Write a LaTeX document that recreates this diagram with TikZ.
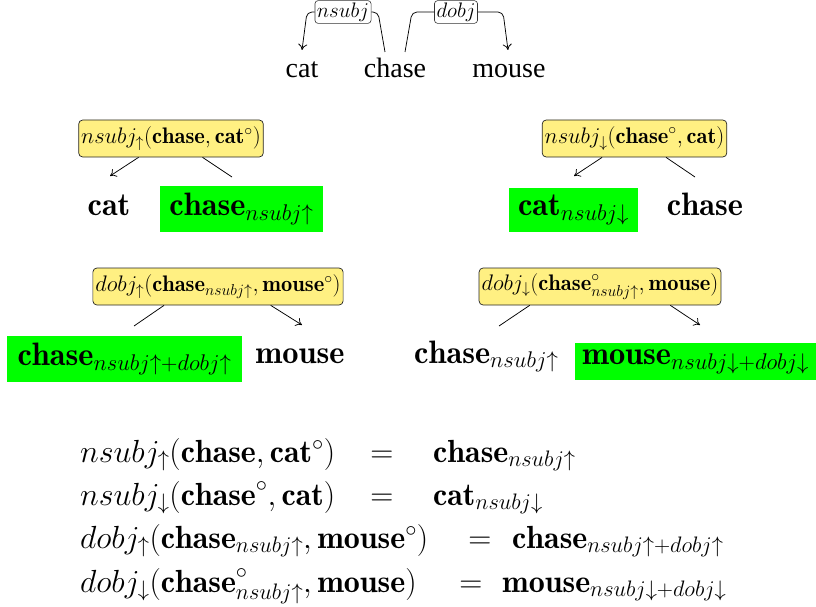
\RequirePackage{fix-cm}
\documentclass[tikz,border=0pt]{standalone}
\usepackage{fontspec}
\newfontfamily\tnr{Liberation Serif}
\usetikzlibrary{calc,arrows.meta}
\definecolor{boxyellow}{RGB}{255,240,130}
\definecolor{hlgreen}{RGB}{0,255,0}
\tikzset{
  word/.style={font=\tnr\fontsize{28}{32}\selectfont, anchor=base, inner sep=0pt},
  deplabel/.style={draw=black!80, fill=white, rounded corners=3pt, inner sep=2pt, line width=0.6pt,
                   font=\fontsize{21}{24}\selectfont},
  fbox/.style={draw=black!85, fill=boxyellow, rounded corners=4pt, inner sep=2.5pt, line width=0.7pt,
               minimum height=37pt, font=\fontsize{22.5}{26}\selectfont},
  gbox/.style={fill=hlgreen, inner sep=0pt, font=\fontsize{32.4}{36}\selectfont},
  bword/.style={font=\fontsize{32.4}{36}\selectfont, inner sep=0pt},
  eq/.style={font=\fontsize{32}{36}\selectfont, inner sep=0pt, anchor=base west},
  eqs/.style={font=\fontsize{32}{36}\selectfont, inner sep=0pt, anchor=base},
  conn/.style={line width=0.75pt},
  arr/.style={conn, -{To[length=6pt,width=9pt]}}
}
\begin{document}
\begin{tikzpicture}[x=1pt,y=-1pt]
\useasboundingbox (0,0) rectangle (816,607);

% ---------- top dependency graph ----------
\node[word] (cat) at (302,78) {cat};
\node[word] (chase) at (395,78) {chase};
\node[word] (mouse) at (509,78) {mouse};
\node[deplabel] (lnsubj) at (343,12) {$nsubj$};
\node[deplabel] (ldobj) at (456,12) {$dobj$};
\coordinate (catin) at (302,50);
\coordinate (chaseA) at (385,52);
\coordinate (chaseB) at (405,52);
\coordinate (mousein) at (508,50);
\draw[arr, rounded corners=5pt] (lnsubj.west) -- (307,12) -- (catin);
\draw[conn, rounded corners=5pt] (lnsubj.east) -- (378,12) -- (chaseA);
\draw[conn, rounded corners=5pt] (chaseB) -- (412,12) -- (ldobj.west);
\draw[arr, rounded corners=5pt] (ldobj.east) -- (503,12) -- (mousein);

% ---------- tree 1 ----------
\node[fbox] (f1) at (171,138.5) {$nsubj_{\uparrow}(\mathbf{chase},\mathbf{cat}^{\circ})$};
\node[bword, anchor=base] (t1cat) at (109,215) {$\mathbf{cat}$};
\node[gbox, minimum width=163pt, minimum height=46pt] (g1) at (241.5,209) {$\mathbf{chase}_{nsubj\uparrow}$};
\coordinate (f1l) at (110,176);
\coordinate (f1r) at (232,177);
\draw[arr] ($(f1.south west)!0.325!(f1.south east)$) -- (f1l);
\draw[conn] ($(f1.south west)!0.67!(f1.south east)$) -- (f1r);

% ---------- tree 2 ----------
\node[fbox] (f2) at (634.5,138.5) {$nsubj_{\downarrow}(\mathbf{chase}^{\circ},\mathbf{cat})$};
\node[gbox, minimum width=129pt, minimum height=44pt] (g2) at (573.5,210) {$\mathbf{cat}_{nsubj\downarrow}$};
\node[bword, anchor=base] (t2chase) at (705,215) {$\mathbf{chase}$};
\coordinate (f2l) at (574,176);
\coordinate (f2r) at (695,177);
\draw[arr] ($(f2.south west)!0.325!(f2.south east)$) -- (f2l);
\draw[conn] ($(f2.south west)!0.67!(f2.south east)$) -- (f2r);

% ---------- tree 3 ----------
\node[fbox] (f3) at (218,286.5) {$dobj_{\uparrow}(\mathbf{chase}_{nsubj\uparrow},\mathbf{mouse}^{\circ})$};
\node[gbox, minimum width=235pt, minimum height=46pt] (g3) at (124.5,359) {$\mathbf{chase}_{nsubj\uparrow+dobj\uparrow}$};
\node[bword, anchor=base] (t3mouse) at (300,363) {$\mathbf{mouse}$};
\coordinate (f3l) at (134,326);
\coordinate (f3r) at (302,325);
\draw[conn] ($(f3.south west)!0.285!(f3.south east)$) -- (f3l);
\draw[arr] ($(f3.south west)!0.71!(f3.south east)$) -- (f3r);

% ---------- tree 4 ----------
\node[fbox] (f4) at (600,286.5) {$dobj_{\downarrow}(\mathbf{chase}^{\circ}_{nsubj\uparrow},\mathbf{mouse})$};
\node[bword, anchor=base west] (t4chase) at (414,363) {$\mathbf{chase}_{nsubj\uparrow}$};
\node[gbox, minimum width=241pt, minimum height=37pt] (g4) at (695.5,361.5) {$\mathbf{mouse}_{nsubj\downarrow+dobj\downarrow}$};
\coordinate (f4l) at (499,326);
\coordinate (f4r) at (700,325);
\draw[conn] ($(f4.south west)!0.21!(f4.south east)$) -- (f4l);
\draw[arr] ($(f4.south west)!0.79!(f4.south east)$) -- (f4r);

% ---------- equations ----------
\node[eq] (e1l) at (80,462) {$nsubj_{\uparrow}(\mathbf{chase},\mathbf{cat}^{\circ})$};
\node[eqs] (e1m) at (382,462) {$=$};
\node[eq] (e1r) at (433,462) {$\mathbf{chase}_{nsubj\uparrow}$};
\node[eq] (e2l) at (80,505) {$nsubj_{\downarrow}(\mathbf{chase}^{\circ},\mathbf{cat})$};
\node[eqs] (e2m) at (382,505) {$=$};
\node[eq] (e2r) at (433,505) {$\mathbf{cat}_{nsubj\downarrow}$};
\node[eq] (e3l) at (80,548) {$dobj_{\uparrow}(\mathbf{chase}_{nsubj\uparrow},\mathbf{mouse}^{\circ})$};
\node[eqs] (e3m) at (480,548) {$=$};
\node[eq] (e3r) at (512,548) {$\mathbf{chase}_{nsubj\uparrow+dobj\uparrow}$};
\node[eq] (e4l) at (80,592) {$dobj_{\downarrow}(\mathbf{chase}^{\circ}_{nsubj\uparrow},\mathbf{mouse})$};
\node[eqs] (e4m) at (471,592) {$=$};
\node[eq] (e4r) at (502,592) {$\mathbf{mouse}_{nsubj\downarrow+dobj\downarrow}$};
\end{tikzpicture}
\end{document}
